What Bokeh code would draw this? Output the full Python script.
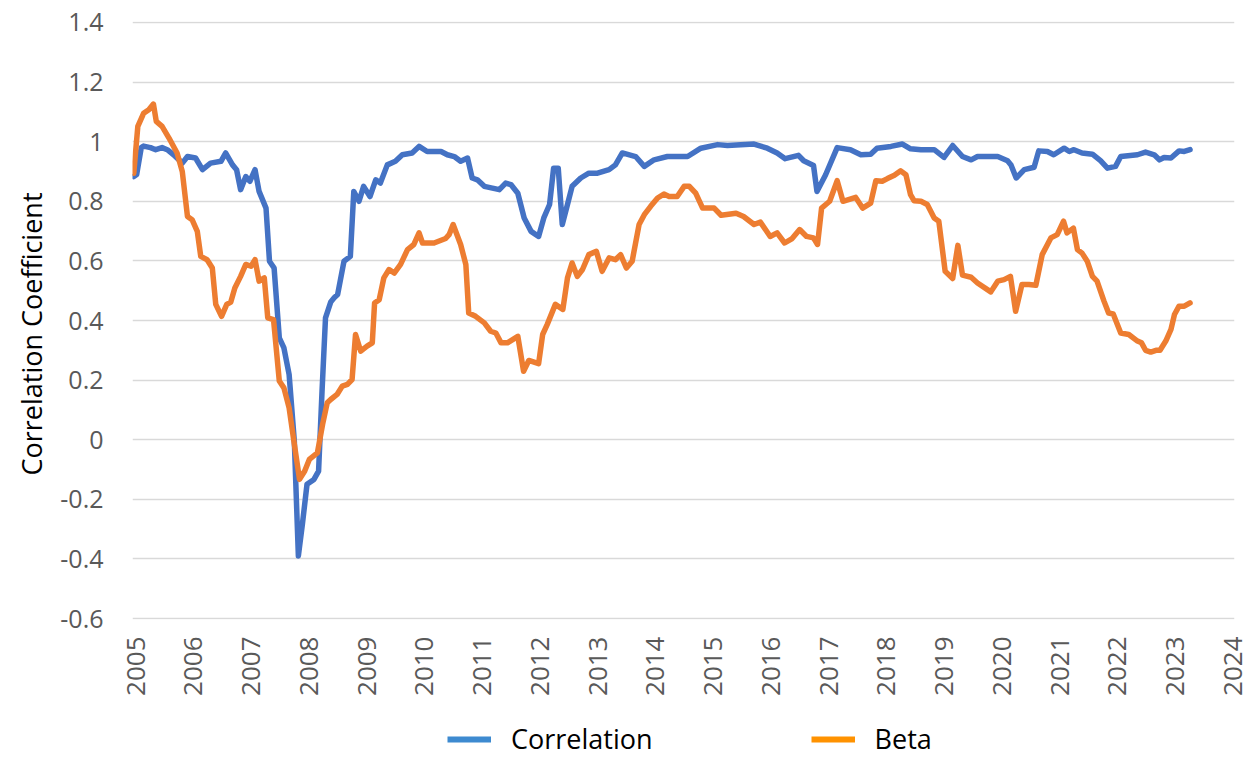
import math
from bokeh.plotting import figure
from bokeh.layouts import column
from bokeh.models import Range1d, FixedTicker, Legend, LegendItem, Title
from bokeh.embed import file_html
from bokeh.resources import INLINE

# ---------------- data (decimal years) ----------------
corr_dates = [2004.97, 2005.02, 2005.10, 2005.14, 2005.26, 2005.35, 2005.46, 2005.55, 2005.66, 2005.81,
              2005.90, 2006.04, 2006.16, 2006.30, 2006.48, 2006.56, 2006.68, 2006.75, 2006.82, 2006.91,
              2006.98, 2007.07, 2007.14, 2007.26, 2007.32, 2007.40, 2007.49, 2007.57, 2007.66, 2007.75,
              2007.82, 2007.89, 2007.97, 2008.09, 2008.17, 2008.23, 2008.29, 2008.38, 2008.44, 2008.50,
              2008.61, 2008.72, 2008.78, 2008.87, 2008.95, 2009.06, 2009.16, 2009.24, 2009.36, 2009.50,
              2009.62, 2009.79, 2009.91, 2010.05, 2010.29, 2010.40, 2010.52, 2010.63, 2010.75, 2010.83,
              2010.92, 2011.04, 2011.30, 2011.41, 2011.50, 2011.62, 2011.73, 2011.85, 2011.98, 2012.07,
              2012.17, 2012.24, 2012.32, 2012.39, 2012.48, 2012.56, 2012.71, 2012.85, 2013.00, 2013.20,
              2013.31, 2013.43, 2013.66, 2013.81, 2013.98, 2014.21, 2014.56, 2014.79, 2015.08, 2015.25,
              2015.71, 2015.94, 2016.11, 2016.25, 2016.48, 2016.57, 2016.74, 2016.80, 2016.95, 2017.15,
              2017.38, 2017.56, 2017.73, 2017.84, 2018.08, 2018.28, 2018.42, 2018.60, 2018.83, 2019.00,
              2019.15, 2019.32, 2019.47, 2019.58, 2019.93, 2020.10, 2020.16, 2020.25, 2020.39, 2020.56,
              2020.64, 2020.79, 2020.90, 2021.08, 2021.17, 2021.25, 2021.39, 2021.57, 2021.71, 2021.83,
              2021.97, 2022.06, 2022.35, 2022.49, 2022.64, 2022.73, 2022.81, 2022.93, 2023.07, 2023.16,
              2023.26]
correlation = [0.883, 0.89, 0.98, 0.985, 0.98, 0.973, 0.98, 0.973, 0.956, 0.928,
               0.95, 0.945, 0.906, 0.928, 0.934, 0.962, 0.922, 0.906, 0.839, 0.883,
               0.867, 0.906, 0.833, 0.777, 0.599, 0.576, 0.342, 0.308, 0.219, -0.004,
               -0.39, -0.283, -0.149, -0.133, -0.105, 0.163, 0.409, 0.462, 0.476, 0.487,
               0.599, 0.615, 0.833, 0.80, 0.85, 0.816, 0.872, 0.861, 0.922, 0.934,
               0.956, 0.962, 0.984, 0.967, 0.967, 0.956, 0.95, 0.934, 0.945, 0.878,
               0.872, 0.85, 0.839, 0.861, 0.856, 0.827, 0.744, 0.699, 0.682, 0.744,
               0.789, 0.911, 0.911, 0.722, 0.789, 0.85, 0.878, 0.894, 0.894, 0.906,
               0.922, 0.962, 0.95, 0.917, 0.939, 0.95, 0.95, 0.978, 0.99, 0.987,
               0.992, 0.978, 0.962, 0.943, 0.954, 0.936, 0.92, 0.833, 0.889, 0.98,
               0.973, 0.956, 0.958, 0.978, 0.984, 0.992, 0.976, 0.973, 0.973, 0.947,
               0.987, 0.95, 0.939, 0.95, 0.95, 0.936, 0.922, 0.878, 0.906, 0.914,
               0.969, 0.967, 0.956, 0.978, 0.967, 0.973, 0.962, 0.958, 0.936, 0.911,
               0.917, 0.95, 0.956, 0.965, 0.956, 0.939, 0.947, 0.945, 0.969, 0.967,
               0.973]

beta_dates = [2004.97, 2005.04, 2005.14, 2005.23, 2005.31, 2005.36, 2005.46, 2005.58, 2005.72, 2005.81,
              2005.90, 2005.98, 2006.07, 2006.13, 2006.24, 2006.33, 2006.39, 2006.49, 2006.58, 2006.65,
              2006.72, 2006.82, 2006.91, 2007.00, 2007.07, 2007.14, 2007.23, 2007.29, 2007.39, 2007.49,
              2007.57, 2007.66, 2007.75, 2007.84, 2007.93, 2008.01, 2008.15, 2008.24, 2008.32, 2008.38,
              2008.49, 2008.58, 2008.67, 2008.75, 2008.81, 2008.90, 2009.01, 2009.10, 2009.14, 2009.22,
              2009.30, 2009.39, 2009.48, 2009.59, 2009.71, 2009.82, 2009.91, 2009.97, 2010.17, 2010.37,
              2010.43, 2010.50, 2010.63, 2010.72, 2010.77, 2010.89, 2011.04, 2011.15, 2011.24, 2011.33,
              2011.44, 2011.62, 2011.72, 2011.81, 2011.98, 2012.05, 2012.13, 2012.27, 2012.40, 2012.48,
              2012.56, 2012.65, 2012.74, 2012.85, 2012.98, 2013.08, 2013.20, 2013.31, 2013.40, 2013.50,
              2013.60, 2013.72, 2013.81, 2013.92, 2014.04, 2014.15, 2014.24, 2014.38, 2014.50, 2014.59,
              2014.70, 2014.82, 2015.02, 2015.14, 2015.40, 2015.53, 2015.71, 2015.82, 2015.99, 2016.11,
              2016.24, 2016.37, 2016.50, 2016.62, 2016.74, 2016.81, 2016.88, 2017.02, 2017.15, 2017.25,
              2017.47, 2017.59, 2017.73, 2017.82, 2017.93, 2018.02, 2018.14, 2018.25, 2018.34, 2018.42,
              2018.48, 2018.60, 2018.71, 2018.83, 2018.91, 2019.02, 2019.15, 2019.24, 2019.32, 2019.47,
              2019.58, 2019.81, 2019.93, 2020.04, 2020.15, 2020.24, 2020.35, 2020.47, 2020.59, 2020.70,
              2020.85, 2020.96, 2021.07, 2021.13, 2021.24, 2021.31, 2021.39, 2021.48, 2021.57, 2021.65,
              2021.77, 2021.85, 2021.93, 2022.06, 2022.20, 2022.35, 2022.42, 2022.49, 2022.58, 2022.67,
              2022.74, 2022.84, 2022.93, 2022.99, 2023.07, 2023.16, 2023.26]
beta = [0.894, 1.051, 1.095, 1.107, 1.126, 1.068, 1.051, 1.012, 0.962, 0.90,
        0.749, 0.738, 0.699, 0.615, 0.604, 0.576, 0.454, 0.414, 0.454, 0.462,
        0.509, 0.548, 0.588, 0.582, 0.604, 0.532, 0.543, 0.409, 0.403, 0.197,
        0.174, 0.107, -0.015, -0.133, -0.105, -0.066, -0.044, 0.052, 0.124, 0.135,
        0.152, 0.18, 0.186, 0.202, 0.353, 0.297, 0.314, 0.325, 0.459, 0.47,
        0.543, 0.571, 0.559, 0.588, 0.638, 0.655, 0.694, 0.66, 0.66, 0.675,
        0.688, 0.722, 0.655, 0.588, 0.425, 0.414, 0.392, 0.364, 0.358, 0.325,
        0.325, 0.347, 0.23, 0.266, 0.255, 0.353, 0.387, 0.454, 0.437, 0.543,
        0.593, 0.548, 0.571, 0.621, 0.632, 0.565, 0.61, 0.604, 0.621, 0.576,
        0.599, 0.722, 0.755, 0.783, 0.811, 0.824, 0.816, 0.816, 0.85, 0.85,
        0.827, 0.777, 0.777, 0.753, 0.76, 0.749, 0.722, 0.73, 0.682, 0.694,
        0.66, 0.675, 0.705, 0.682, 0.677, 0.655, 0.777, 0.80, 0.869, 0.80,
        0.813, 0.777, 0.794, 0.869, 0.867, 0.876, 0.887, 0.902, 0.889, 0.822,
        0.802, 0.80, 0.789, 0.744, 0.733, 0.565, 0.541, 0.652, 0.552, 0.545,
        0.526, 0.496, 0.532, 0.537, 0.548, 0.431, 0.521, 0.521, 0.518, 0.621,
        0.677, 0.688, 0.733, 0.694, 0.71, 0.638, 0.626, 0.599, 0.548, 0.532,
        0.465, 0.425, 0.422, 0.358, 0.353, 0.331, 0.325, 0.30, 0.294, 0.30,
        0.30, 0.331, 0.37, 0.42, 0.448, 0.448, 0.459]

x_ticks = list(range(2005, 2025))
y_ticks = [-0.6, -0.4, -0.2, 0.0, 0.2, 0.4, 0.6, 0.8, 1.0, 1.2, 1.4]
y_tick_labels = ["-0.6", "-0.4", "-0.2", "0", "0.2", "0.4", "0.6", "0.8", "1", "1.2", "1.4"]
series_names = ["Correlation", "Beta"]

# ---------------- main figure ----------------
FONT = "Open Sans"
p = figure(width=1243, height=720, output_backend="svg", toolbar_location=None,
           x_range=Range1d(2004.948, 2024.03), y_range=Range1d(-0.603, 1.403),
           min_border_left=132, min_border_right=9, min_border_top=21, min_border_bottom=101)
p.outline_line_color = None
p.background_fill_color = "white"
p.border_fill_color = "white"

p.xgrid.visible = False
p.ygrid.ticker = FixedTicker(ticks=y_ticks)
p.ygrid.grid_line_color = "#d9d9d9"
p.ygrid.grid_line_width = 1.6

xa = p.xaxis[0]
xa.ticker = FixedTicker(ticks=x_ticks)
xa.axis_line_color = None
xa.major_tick_line_color = None
xa.minor_tick_line_color = None
xa.major_tick_out = 0
xa.major_tick_in = 0
xa.major_label_standoff = 17
xa.major_label_orientation = math.pi / 2
xa.major_label_text_font = FONT
xa.major_label_text_font_size = "26px"
xa.major_label_text_color = "#595959"

ya = p.yaxis[0]
ya.ticker = FixedTicker(ticks=y_ticks)
ya.major_label_overrides = {t: s for t, s in zip(y_ticks, y_tick_labels)}
ya.axis_line_color = None
ya.major_tick_line_color = None
ya.minor_tick_line_color = None
ya.major_tick_out = 0
ya.major_tick_in = 0
ya.major_label_standoff = 29
ya.major_label_text_font = FONT
ya.major_label_text_font_size = "25px"
ya.major_label_text_color = "#595959"

p.line(corr_dates, correlation, line_color="#4472C4", line_width=5.5,
       line_join="round", line_cap="round")
p.line(beta_dates, beta, line_color="#ED7D31", line_width=5.5,
       line_join="round", line_cap="round")

p.add_layout(Title(text="Correlation Coefficient", align="left", offset=144, standoff=15,
                   text_font=FONT, text_font_size="27px", text_font_style="normal",
                   text_color="black"), "left")

# ---------------- legend strip ----------------
lg = figure(width=1243, height=37, output_backend="svg", toolbar_location=None,
            x_range=Range1d(0, 1), y_range=Range1d(0, 1),
            min_border_left=0, min_border_right=0, min_border_top=0, min_border_bottom=0)
lg.axis.visible = False
lg.grid.visible = False
lg.outline_line_color = None
lg.background_fill_color = "white"
lg.border_fill_color = "white"
# placeholder renderers (no visible data) that only supply the legend swatches
r1 = lg.line(x=[math.nan], y=[math.nan], line_color="#3D8AD0", line_width=6)
r2 = lg.line(x=[math.nan], y=[math.nan], line_color="#FF9200", line_width=6)
legend = Legend(items=[LegendItem(label=series_names[0], renderers=[r1]),
                       LegendItem(label=series_names[1], renderers=[r2])],
                orientation="horizontal", location=(315, 0),
                glyph_width=44, glyph_height=20, label_standoff=20, spacing=158,
                padding=0, margin=0, border_line_alpha=0, background_fill_alpha=0,
                label_text_font=FONT, label_text_font_size="27px", label_text_color="black")
lg.add_layout(legend)

layout = column(p, lg, spacing=0)
open("out.html", "w").write(file_html(layout, INLINE))
